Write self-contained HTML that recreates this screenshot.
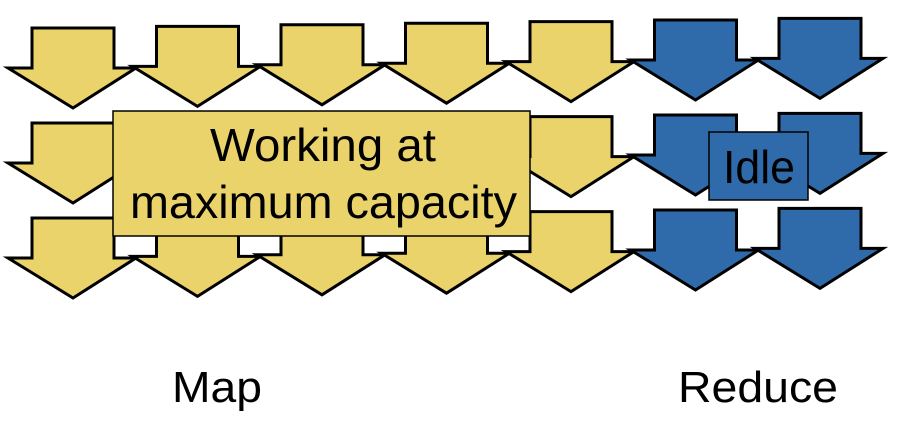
<!DOCTYPE html>
<html><head><meta charset="utf-8"><style>
html,body{margin:0;padding:0;background:#fff;width:902px;height:434px;overflow:hidden}
svg{display:block}
text{font-family:"Liberation Sans",Arial,sans-serif;fill:#000}
</style></head><body>
<svg id="s" width="902" height="434" viewBox="0 0 902 434" xmlns="http://www.w3.org/2000/svg">
<g id="arrows"></g>
<rect x="113" y="111" width="417" height="125" fill="#ebd36c" stroke="#000" stroke-width="1.5"/>
<text x="210" y="161" font-size="46" textLength="226" lengthAdjust="spacingAndGlyphs">Working at</text>
<text x="130" y="218" font-size="46" textLength="387" lengthAdjust="spacingAndGlyphs">maximum capacity</text>
<rect x="709" y="132" width="99" height="68" fill="#2f6aab" stroke="#000" stroke-width="1.5"/>
<text x="723" y="183" font-size="46" textLength="72" lengthAdjust="spacingAndGlyphs">Idle</text>
<text x="172" y="402" font-size="44" textLength="90" lengthAdjust="spacingAndGlyphs">Map</text>
<text x="678" y="402" font-size="44" textLength="160" lengthAdjust="spacingAndGlyphs">Reduce</text>
</svg>
<script>
var g=document.getElementById('arrows'),h='';
for(var r=0;r<3;r++){for(var i=0;i<7;i++){
 var x0=8+124.5*i, dy=28-1.6*i+95*r;
 var fill=i<5?'#ebd36c':'#2f6aab';
 var p=[[x0+24,dy],[x0+106,dy],[x0+106,dy+40],[x0+128,dy+40],[x0+65,dy+80],[x0,dy+40],[x0+24,dy+40]];
 h+='<polygon points="'+p.map(function(a){return a[0].toFixed(1)+','+a[1].toFixed(1)}).join(' ')+'" fill="'+fill+'" stroke="#000" stroke-width="3" stroke-linejoin="miter"/>';
}}
g.innerHTML=h;
</script>
</body></html>
